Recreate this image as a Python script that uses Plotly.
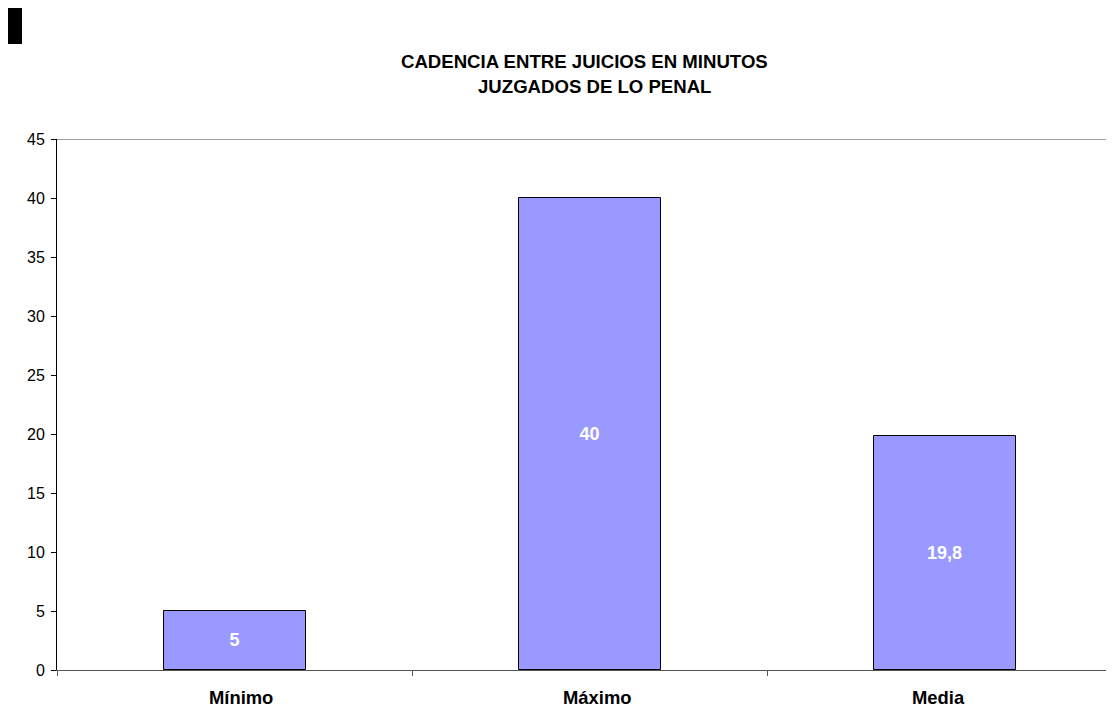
import plotly.graph_objects as go

categories = ["Mínimo", "Máximo", "Media"]
values = [5, 40, 19.8]
labels = [str(v).replace(".", ",") for v in values]
y_ticks = [0, 5, 10, 15, 20, 25, 30, 35, 40, 45]
label_xshift = [6, 7, -6]

# the page body has an 8px margin; all pixel positions below are screen positions
OFF = 8
W, H = 1114, 711
L, R, T, B = 57 - OFF, 0, 139 - OFF, 711 - (670 - OFF)
pw, ph = W - L - R, H - T - B

def px_x(x):
    return (x - OFF - L) / pw

def px_y(y):
    return (H - B - (y - OFF)) / ph

fig = go.Figure()
fig.add_trace(go.Bar(
    x=categories, y=values, width=0.4,
    marker=dict(color="#9999FF", line=dict(color="black", width=1)),
    text=labels, textposition="inside", insidetextanchor="middle",
    textfont=dict(color="white", size=18, family="Liberation Sans, Arial", weight="bold"),
    textangle=0, hoverinfo="skip",
))

annotations = [
    dict(text="<b>CADENCIA ENTRE JUICIOS EN MINUTOS</b>", xref="paper", yref="paper",
         x=px_x(584), y=px_y(61), xanchor="center", yanchor="middle",
         showarrow=False, font=dict(size=18.6)),
    dict(text="<b>JUZGADOS DE LO PENAL</b>", xref="paper", yref="paper",
         x=px_x(594), y=px_y(86), xanchor="center", yanchor="middle",
         showarrow=False, font=dict(size=18.6)),
]
for cat, dx in zip(categories, label_xshift):
    annotations.append(dict(
        text="<b>%s</b>" % cat, x=cat, y=0, xref="x", yref="y",
        xanchor="center", yanchor="top", xshift=dx, yshift=-15,
        showarrow=False, font=dict(size=18.4),
    ))

fig.update_layout(
    width=W, height=H,
    margin=dict(l=L, r=R, t=T, b=B),
    paper_bgcolor="white", plot_bgcolor="white",
    font=dict(family="Liberation Sans, Arial", color="black", size=16),
    showlegend=False,
    bargap=0,
    xaxis=dict(
        type="category", range=[-0.5, 2.5],
        showgrid=False, zeroline=False,
        showline=True, linecolor="#555555", linewidth=1,
        ticks="outside", tickson="boundaries", ticklen=5, tickcolor="#555555",
        showticklabels=False,
        fixedrange=True,
    ),
    yaxis=dict(
        range=[0, 45], tickvals=y_ticks,
        showgrid=False, zeroline=False,
        showline=True, linecolor="black", linewidth=1,
        ticks="outside", ticklen=5, tickcolor="black",
        tickfont=dict(size=16),
        ticklabelstandoff=3,
        fixedrange=True,
    ),
    annotations=annotations,
    shapes=[
        dict(type="line", xref="paper", yref="y", x0=0, x1=1, y0=45, y1=45,
             line=dict(color="#808080", width=1.5), layer="below"),
        dict(type="rect", xref="paper", yref="paper",
             x0=px_x(8), x1=px_x(22), y0=px_y(44), y1=px_y(7),
             fillcolor="black", line=dict(width=0)),
    ],
)

fig.write_html("out.html")
